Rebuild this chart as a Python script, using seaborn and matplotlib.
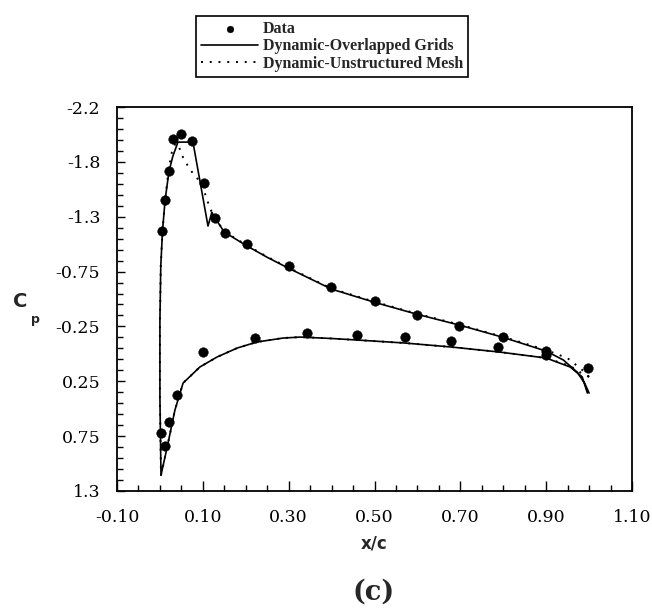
import numpy as np
import pandas as pd
import matplotlib
matplotlib.use("Agg")
import matplotlib.pyplot as plt
import seaborn as sns

# Experimental pressure coefficients (upper and lower surface)
upper_x = [0.005, 0.012, 0.022, 0.031, 0.049, 0.075, 0.103, 0.128, 0.152, 0.203,
           0.301, 0.399, 0.501, 0.599, 0.697, 0.799, 0.900, 0.998]
upper_cp = [-1.12, -1.40, -1.67, -1.96, -2.00, -1.94, -1.56, -1.24, -1.10, -1.00,
            -0.80, -0.61, -0.48, -0.354, -0.254, -0.153, -0.03, 0.13]
lower_x = [0.003, 0.012, 0.021, 0.040, 0.100, 0.222, 0.343, 0.459, 0.571, 0.679,
           0.788, 0.900]
lower_cp = [0.72, 0.84, 0.62, 0.375, -0.017, -0.144, -0.19, -0.17, -0.153, -0.117,
            -0.062, 0.01]

# Overlapped-grid solution, traced from trailing edge over the upper surface
# to the leading edge and back along the lower surface
overlap_x = [1.0, 0.99, 0.972, 0.94, 0.90, 0.80, 0.70, 0.60, 0.50, 0.40, 0.30, 0.25,
             0.20, 0.15, 0.128, 0.121, 0.112, 0.077, 0.042, 0.030, 0.021, 0.012,
             0.006, 0.002, 0.0, 0.0, 0.0025, 0.017, 0.035, 0.054, 0.093, 0.133,
             0.18, 0.226, 0.287, 0.327, 0.40, 0.46, 0.57, 0.68, 0.79, 0.90, 0.956,
             0.984, 0.996]
overlap_cp = [0.357, 0.27, 0.166, 0.056, -0.025, -0.15, -0.26, -0.36, -0.47, -0.59,
              -0.78, -0.88, -0.99, -1.11, -1.24, -1.29, -1.165, -1.93, -1.93, -1.80,
              -1.66, -1.40, -1.12, -0.80, -0.30, 0.40, 1.105, 0.849, 0.512, 0.266,
              0.12, 0.029, -0.053, -0.108, -0.144, -0.153, -0.14, -0.126, -0.099,
              -0.062, -0.017, 0.038, 0.12, 0.21, 0.357]

# Unstructured-mesh solution, same traversal
unstruct_x = [1.0, 0.985, 0.95, 0.90, 0.80, 0.70, 0.60, 0.50, 0.40, 0.30, 0.25, 0.20,
              0.15, 0.128, 0.12, 0.11, 0.10, 0.089, 0.07, 0.054, 0.045, 0.036,
              0.028, 0.021, 0.012, 0.006, 0.002, 0.0, 0.0, 0.0025, 0.017, 0.035,
              0.054, 0.093, 0.133, 0.18, 0.226, 0.287, 0.327, 0.40, 0.46, 0.57,
              0.68, 0.79, 0.90, 0.956, 0.984, 1.0]
unstruct_cp = [0.21, 0.15, 0.04, -0.035, -0.155, -0.265, -0.365, -0.475, -0.595,
               -0.785, -0.885, -0.995, -1.115, -1.24, -1.30, -1.40, -1.52, -1.59,
               -1.68, -1.79, -1.88, -1.92, -1.84, -1.70, -1.40, -1.12, -0.80, -0.30,
               0.40, 1.105, 0.849, 0.512, 0.266, 0.12, 0.029, -0.053, -0.108,
               -0.144, -0.153, -0.14, -0.126, -0.099, -0.062, -0.017, 0.038, 0.11,
               0.18, 0.21]

x_ticks = [-0.10, 0.10, 0.30, 0.50, 0.70, 0.90, 1.10]
x_tick_labels = ["-0.10", "0.10", "0.30", "0.50", "0.70", "0.90", "1.10"]
y_ticks = [-2.25, -1.75, -1.25, -0.75, -0.25, 0.25, 0.75, 1.25]
y_tick_labels = ["-2.2", "-1.8", "-1.3", "-0.75", "-0.25", "0.25", "0.75", "1.3"]

sns.set_style("ticks")
plt.rcParams["font.family"] = ["DejaVu Serif"]

W, H = 652, 611
fig = plt.figure(figsize=(W / 100, H / 100), dpi=100)
ax = fig.add_axes([117 / W, 1 - 491 / H, (632 - 117) / W, (491 - 107) / H])

data = pd.DataFrame({"x": upper_x + lower_x, "cp": upper_cp + lower_cp})
overlap = pd.DataFrame({"x": overlap_x, "cp": overlap_cp})
unstruct = pd.DataFrame({"x": unstruct_x, "cp": unstruct_cp})

sns.lineplot(data=overlap, x="x", y="cp", sort=False, estimator=None, color="black",
             linewidth=1.2, ax=ax, label="Dynamic-Overlapped Grids")
sns.lineplot(data=unstruct, x="x", y="cp", sort=False, estimator=None, color="black",
             linewidth=1.4, linestyle=(0, (1, 3.5)), ax=ax,
             label="Dynamic-Unstructured Mesh")
sns.scatterplot(data=data, x="x", y="cp", color="black", s=48, edgecolor="black",
                linewidth=0.3, zorder=5, ax=ax, label="Data")

ax.set_xlim(-0.10, 1.10)
ax.set_ylim(1.25, -2.25)
ax.set_xticks(x_ticks)
ax.set_xticklabels(x_tick_labels)
ax.set_yticks(y_ticks)
ax.set_yticklabels(y_tick_labels)
ax.set_xticks(np.arange(-0.10, 1.1001, 0.05), minor=True)
ax.set_yticks(np.arange(-2.25, 1.2501, 0.1), minor=True)
ax.tick_params(which="both", direction="in", top=False, right=False, width=1.0,
               labelsize=12.5, colors="black")
ax.tick_params(axis="y", which="major", length=6, pad=12)
ax.tick_params(axis="x", which="major", length=7, pad=13)
ax.tick_params(which="minor", length=4)
for side in ax.spines.values():
    side.set_visible(True)
    side.set_linewidth(1.3)
    side.set_color("black")

ax.set_xlabel("")
ax.set_ylabel("")
fig.text(374 / W, 1 - 544 / H, "x/c", ha="center", va="center", fontsize=12,
         fontweight="bold", family="DejaVu Sans")
fig.text(20 / W, 1 - 302 / H, "C", ha="center", va="center", fontsize=14,
         fontweight="bold", family="DejaVu Sans")
fig.text(35 / W, 1 - 320 / H, "p", ha="center", va="center", fontsize=9,
         fontweight="bold", family="DejaVu Sans")
fig.text(374 / W, 1 - 592 / H, "(c)", ha="center", va="center", fontsize=19.5,
         fontweight="bold", family="DejaVu Serif")

handles, labels = ax.get_legend_handles_labels()
ax.get_legend().remove()
order = [labels.index("Data"), labels.index("Dynamic-Overlapped Grids"),
         labels.index("Dynamic-Unstructured Mesh")]
leg = fig.legend([handles[i] for i in order], [labels[i] for i in order],
                 loc="upper left", bbox_to_anchor=(196 / W, 1 - 16 / H),
                 frameon=True, fancybox=False, edgecolor="black", framealpha=1,
                 prop={"family": "Liberation Serif", "weight": "bold", "size": 11.5},
                 handlelength=3.6, handletextpad=0.3, labelspacing=0.1,
                 borderpad=0.3, borderaxespad=0, markerscale=0.7)
leg.get_frame().set_linewidth(1.2)

fig.savefig("out.png", dpi=100)
